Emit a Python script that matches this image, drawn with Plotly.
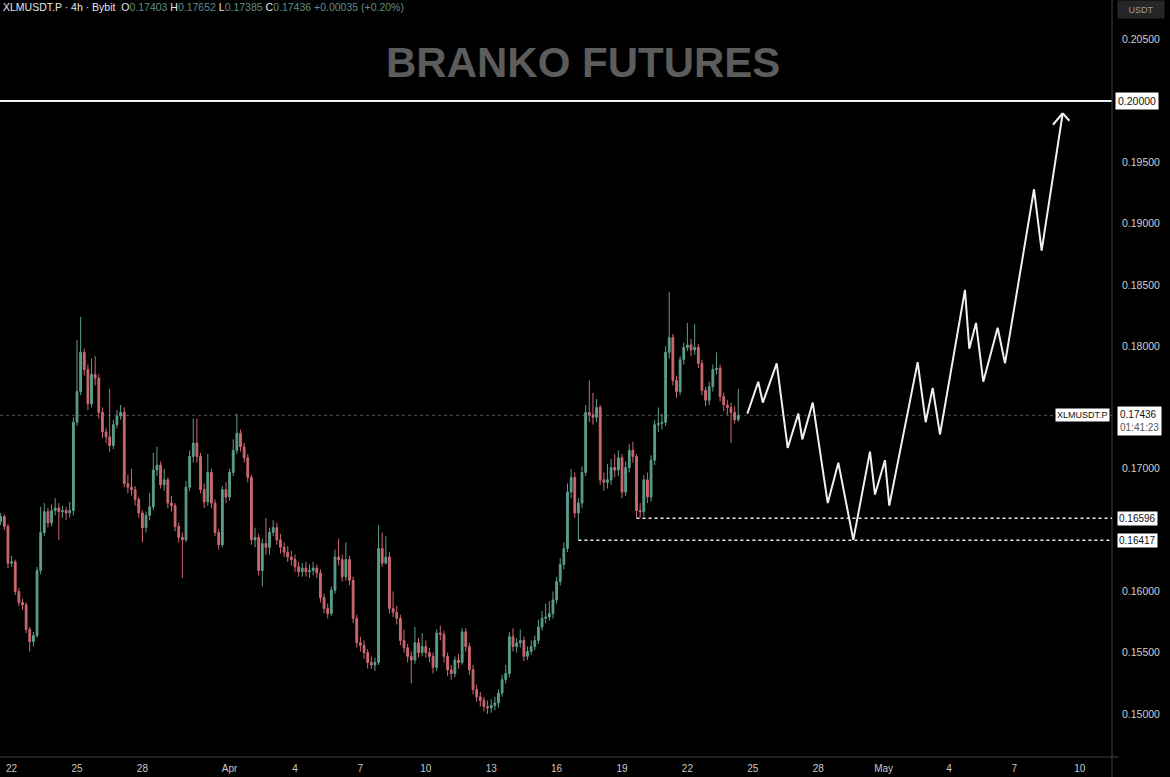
import pandas as pd
import plotly.graph_objects as go

symbol = "XLMUSDT.P"
first_open = 0.1657
closes = [
    0.1661, 0.1653, 0.1623, 0.1624, 0.1600, 0.1591, 0.1589, 0.1569, 0.1559, 0.1564,
    0.1617, 0.1648, 0.1665, 0.1656, 0.1666, 0.1668, 0.1665, 0.1666, 0.1664, 0.1666,
    0.1738, 0.1763, 0.1795, 0.1781, 0.1753, 0.1777, 0.1774, 0.1746, 0.1730, 0.1726,
    0.1719, 0.1736, 0.1743, 0.1746, 0.1688, 0.1685, 0.1683, 0.1675, 0.1664, 0.1652,
    0.1662, 0.1669, 0.1699, 0.1703, 0.1687, 0.1691, 0.1672, 0.1670, 0.1653, 0.1644,
    0.1642, 0.1685, 0.1710, 0.1721, 0.1710, 0.1683, 0.1673, 0.1697, 0.1672, 0.1648,
    0.1638, 0.1683, 0.1677, 0.1697, 0.1715, 0.1729, 0.1718, 0.1709, 0.1693, 0.1642,
    0.1644, 0.1617, 0.1639, 0.1636, 0.1648, 0.1652, 0.1642, 0.1636, 0.1632, 0.1628,
    0.1626, 0.1620, 0.1616, 0.1619, 0.1616, 0.1617, 0.1619, 0.1615, 0.1595, 0.1586,
    0.1582, 0.1601, 0.1628, 0.1626, 0.1612, 0.1626, 0.1609, 0.1578, 0.1558, 0.1556,
    0.1550, 0.1542, 0.1540, 0.1542, 0.1635, 0.1623, 0.1628, 0.1586, 0.1583, 0.1578,
    0.1560, 0.1554, 0.1547, 0.1544, 0.1558, 0.1550, 0.1555, 0.1550, 0.1547, 0.1538,
    0.1566, 0.1565, 0.1547, 0.1536, 0.1533, 0.1544, 0.1542, 0.1567, 0.1555, 0.1536,
    0.1520, 0.1514, 0.1511, 0.1506, 0.1505, 0.1507, 0.1509, 0.1517, 0.1528, 0.1533,
    0.1563, 0.1555, 0.1558, 0.1560, 0.1547, 0.1551, 0.1555, 0.1560, 0.1571, 0.1578,
    0.1579, 0.1582, 0.1593, 0.1608, 0.1622, 0.1635, 0.1681, 0.1693, 0.1664, 0.1672,
    0.1697, 0.1746, 0.1744, 0.1742, 0.1750, 0.1691, 0.1689, 0.1691, 0.1701, 0.1699,
    0.1709, 0.1681, 0.1701, 0.1715, 0.1710, 0.1666, 0.1665, 0.1691, 0.1677, 0.1707,
    0.1736, 0.1737, 0.1738, 0.1795, 0.1807, 0.1772, 0.1763, 0.1789, 0.1799, 0.1801,
    0.1797, 0.1799, 0.1786, 0.1764, 0.1756, 0.1767, 0.1781, 0.1782, 0.1759, 0.1752,
    0.1750, 0.1746, 0.1740, 0.17436,
]
highs = [
    0.1664, 0.1663, 0.1655, 0.1629, 0.1626, 0.1603, 0.1594, 0.1591, 0.1571, 0.1567,
    0.1620, 0.1669, 0.1672, 0.1668, 0.1671, 0.1676, 0.1672, 0.1670, 0.1669, 0.1673,
    0.1742, 0.1805, 0.1824, 0.1798, 0.1785, 0.1790, 0.1792, 0.1777, 0.1750, 0.1733,
    0.1765, 0.1740, 0.1748, 0.1752, 0.1750, 0.1695, 0.1700, 0.1686, 0.1677, 0.1666,
    0.1665, 0.1680, 0.1713, 0.1718, 0.1706, 0.1700, 0.1693, 0.1678, 0.1672, 0.1656,
    0.1648, 0.1690, 0.1715, 0.1741, 0.1741, 0.1713, 0.1688, 0.1712, 0.1700, 0.1675,
    0.1651, 0.1686, 0.1689, 0.1700, 0.1724, 0.1745, 0.1732, 0.1721, 0.1712, 0.1695,
    0.1652, 0.1647, 0.1643, 0.1660, 0.1652, 0.1658, 0.1656, 0.1647, 0.1640, 0.1637,
    0.1633, 0.1630, 0.1624, 0.1623, 0.1624, 0.1622, 0.1624, 0.1622, 0.1618, 0.1598,
    0.1590, 0.1604, 0.1634, 0.1643, 0.1630, 0.1640, 0.1629, 0.1612, 0.1581, 0.1563,
    0.1560, 0.1553, 0.1547, 0.1546, 0.1654, 0.1648, 0.1645, 0.1632, 0.1600, 0.1588,
    0.1581, 0.1569, 0.1557, 0.1551, 0.1571, 0.1562, 0.1566, 0.1560, 0.1554, 0.1550,
    0.1569, 0.1572, 0.1568, 0.1550, 0.1540, 0.1547, 0.1549, 0.1570, 0.1570, 0.1558,
    0.1540, 0.1524, 0.1518, 0.1514, 0.1511, 0.1512, 0.1514, 0.1520, 0.1532, 0.1540,
    0.1567, 0.1570, 0.1562, 0.1569, 0.1563, 0.1555, 0.1560, 0.1564, 0.1577, 0.1584,
    0.1590, 0.1592, 0.1600, 0.1612, 0.1627, 0.1640, 0.1688, 0.1700, 0.1697, 0.1676,
    0.1702, 0.1752, 0.1772, 0.1762, 0.1757, 0.1752, 0.1697, 0.1704, 0.1708, 0.1712,
    0.1715, 0.1712, 0.1706, 0.1720, 0.1722, 0.1712, 0.1672, 0.1695, 0.1697, 0.1711,
    0.1740, 0.1750, 0.1745, 0.1800, 0.1844, 0.1810, 0.1776, 0.1792, 0.1803, 0.1819,
    0.1806, 0.1818, 0.1802, 0.1789, 0.1767, 0.1771, 0.1785, 0.1795, 0.1785, 0.1762,
    0.1756, 0.1754, 0.1751, 0.17652,
]
lows = [
    0.1654, 0.1650, 0.1619, 0.1620, 0.1597, 0.1588, 0.1585, 0.1566, 0.1551, 0.1555,
    0.1562, 0.1614, 0.1645, 0.1652, 0.1653, 0.1662, 0.1642, 0.1660, 0.1658, 0.1660,
    0.1662, 0.1735, 0.1760, 0.1776, 0.1748, 0.1750, 0.1768, 0.1741, 0.1725, 0.1721,
    0.1714, 0.1716, 0.1733, 0.1740, 0.1685, 0.1680, 0.1678, 0.1670, 0.1660, 0.1640,
    0.1648, 0.1658, 0.1666, 0.1694, 0.1684, 0.1682, 0.1668, 0.1665, 0.1649, 0.1640,
    0.1611, 0.1640, 0.1682, 0.1705, 0.1705, 0.1680, 0.1668, 0.1670, 0.1668, 0.1645,
    0.1634, 0.1636, 0.1672, 0.1674, 0.1694, 0.1712, 0.1714, 0.1705, 0.1689, 0.1638,
    0.1636, 0.1613, 0.1604, 0.1630, 0.1630, 0.1645, 0.1638, 0.1631, 0.1628, 0.1624,
    0.1621, 0.1616, 0.1612, 0.1612, 0.1612, 0.1611, 0.1613, 0.1611, 0.1591, 0.1582,
    0.1578, 0.1580, 0.1598, 0.1621, 0.1608, 0.1609, 0.1605, 0.1574, 0.1554, 0.1551,
    0.1545, 0.1537, 0.1537, 0.1535, 0.1540, 0.1620, 0.1622, 0.1582, 0.1579, 0.1573,
    0.1556, 0.1550, 0.1542, 0.1525, 0.1541, 0.1546, 0.1547, 0.1546, 0.1542, 0.1533,
    0.1535, 0.1560, 0.1542, 0.1531, 0.1528, 0.1530, 0.1537, 0.1540, 0.1551, 0.1532,
    0.1516, 0.1510, 0.1506, 0.1502, 0.1500, 0.1501, 0.1503, 0.1505, 0.1514, 0.1525,
    0.1530, 0.1551, 0.1550, 0.1554, 0.1543, 0.1544, 0.1548, 0.1552, 0.1557, 0.1568,
    0.1574, 0.1576, 0.1578, 0.1590, 0.1605, 0.1618, 0.1632, 0.1676, 0.1660, 0.16417,
    0.1668, 0.1694, 0.1738, 0.1736, 0.1738, 0.1687, 0.1682, 0.1684, 0.1687, 0.1693,
    0.1694, 0.1676, 0.1678, 0.1697, 0.1705, 0.16596, 0.1660, 0.1661, 0.1672, 0.1673,
    0.1703, 0.1730, 0.1732, 0.1735, 0.1790, 0.1768, 0.1758, 0.1760, 0.1785, 0.1796,
    0.1792, 0.1793, 0.1782, 0.1760, 0.1751, 0.1752, 0.1763, 0.1777, 0.1755, 0.1747,
    0.1744, 0.1721, 0.1737, 0.17385,
]
opens = [first_open] + closes[:-1]
times = pd.date_range("2024-03-21 12:00", periods=len(closes), freq="4h")

# projected path (hand drawn)
proj_times = [
    "2024-04-24 18:00", "2024-04-25 06:00", "2024-04-25 11:00", "2024-04-26 02:20",
    "2024-04-26 14:25", "2024-04-27 02:05", "2024-04-27 06:30", "2024-04-27 18:00",
    "2024-04-28 10:30", "2024-04-28 22:10", "2024-04-29 14:40", "2024-04-30 09:00",
    "2024-04-30 14:30", "2024-05-01 01:30", "2024-05-01 06:15", "2024-05-02 13:30",
    "2024-05-02 22:20", "2024-05-03 06:00", "2024-05-03 14:05", "2024-05-04 17:35",
    "2024-05-04 22:20", "2024-05-05 05:45", "2024-05-05 13:45", "2024-05-06 05:35",
    "2024-05-06 13:40", "2024-05-07 21:35", "2024-05-08 06:00", "2024-05-09 05:10",
]
proj_prices = [
    0.1745, 0.1771, 0.1754, 0.1786, 0.1717, 0.1745, 0.1724, 0.1754,
    0.1672, 0.1705, 0.1642, 0.1714, 0.1679, 0.1707, 0.1670, 0.1787,
    0.1738, 0.1766, 0.1728, 0.1846, 0.1798, 0.1819, 0.1771, 0.1815,
    0.1786, 0.1928, 0.1878, 0.1990,
]

target_level = 0.20000
support_levels = [0.16596, 0.16417]
support_starts = ["2024-04-19 16:00", "2024-04-17 00:00"]
last_price = 0.17436
countdown = "01:41:23"

x_range = ["2024-03-21 11:14", "2024-05-11 11:27"]
y_range = [0.14649, 0.20824]
y_ticks = [0.150, 0.155, 0.160, 0.170, 0.180, 0.185, 0.190, 0.195, 0.205]
x_tickvals = ["2024-03-22", "2024-03-25", "2024-03-28", "2024-04-01", "2024-04-04",
              "2024-04-07", "2024-04-10", "2024-04-13", "2024-04-16", "2024-04-19",
              "2024-04-22", "2024-04-25", "2024-04-28", "2024-05-01", "2024-05-04",
              "2024-05-07", "2024-05-10"]
x_ticktext = ["22", "25", "28", "Apr", "4", "7", "10", "13", "16", "19", "22",
              "25", "28", "May", "4", "7", "10"]

UP = "#5c9e8b"
DOWN = "#cc6872"
FONT = "Liberation Sans"
WHITE = "#f0f0f0"

fig = go.Figure()
fig.add_trace(go.Candlestick(
    x=times, open=opens, high=highs, low=lows, close=closes,
    increasing=dict(line=dict(color=UP, width=1), fillcolor=UP),
    decreasing=dict(line=dict(color=DOWN, width=1), fillcolor=DOWN),
    whiskerwidth=0, showlegend=False, hoverinfo="skip",
))
fig.add_trace(go.Scatter(
    x=proj_times, y=proj_prices, mode="lines",
    line=dict(color=WHITE, width=2), showlegend=False, hoverinfo="skip",
))

shapes = [
    dict(type="line", xref="paper", x0=0, x1=1, yref="y", y0=last_price, y1=last_price,
         line=dict(color="rgba(150,150,150,0.55)", width=1, dash="dot"), layer="below"),
    dict(type="line", xref="paper", x0=0, x1=1, yref="y", y0=target_level, y1=target_level,
         line=dict(color=WHITE, width=2)),
    dict(type="line", xref="paper", x0=1, x1=1, yref="paper", y0=-0.03, y1=1,
         line=dict(color="#404040", width=1)),
    dict(type="line", xref="paper", x0=0, x1=1.006, yref="paper", y0=0, y1=0,
         line=dict(color="#404040", width=1)),
]
for lvl, start in zip(support_levels, support_starts):
    shapes.append(dict(type="line", xref="x", x0=start, x1=x_range[1], yref="y", y0=lvl, y1=lvl,
                       line=dict(color="#e8e8e8", width=1.5, dash="dot")))

annotations = [
    dict(text="<b>BRANKO FUTURES</b>", xref="paper", yref="paper", x=0.524, y=0.918,
         xanchor="center", yanchor="middle",
         showarrow=False, font=dict(family=FONT, size=42, color="#5c5c5c")),
    dict(text=(f"<span style='color:#e6e6e6'>{symbol} · 4h · Bybit</span>  "
               "<span style='color:#e6e6e6'>O</span><span style='color:#5f8f86'>0.17403</span> "
               "<span style='color:#e6e6e6'>H</span><span style='color:#5f8f86'>0.17652</span> "
               "<span style='color:#e6e6e6'>L</span><span style='color:#5f8f86'>0.17385</span> "
               "<span style='color:#e6e6e6'>C</span><span style='color:#5f8f86'>0.17436</span> "
               "<span style='color:#5f8f86'>+0.00035 (+0.20%)</span>"),
         xref="paper", yref="paper", x=0, y=1, xanchor="left", yanchor="top",
         xshift=1, yshift=1, showarrow=False, font=dict(family=FONT, size=10.5)),
    dict(text="USDT", xref="paper", yref="paper", x=1, y=1, xanchor="left", yanchor="top",
         xshift=5, width=42, height=13, showarrow=False, bgcolor="#262626", borderpad=2,
         font=dict(family=FONT, size=9, color="#9a9a9a")),
    dict(text=f"{target_level:.5f}", xref="paper", yref="y", x=1, y=target_level,
         xanchor="left", xshift=3, showarrow=False, bgcolor="#ffffff", borderpad=2,
         font=dict(family=FONT, size=10.5, color="#111111")),
    dict(text=symbol, xref="paper", yref="y", x=1, y=last_price, xanchor="right",
         xshift=-2, showarrow=False, bgcolor="#ffffff", borderpad=1,
         font=dict(family=FONT, size=9, color="#111111")),
    dict(text=f"{last_price:.5f}<br><span style='color:#555'>{countdown}</span>",
         xref="paper", yref="y", x=1, y=last_price, xanchor="left", yanchor="top",
         xshift=5, yshift=9, showarrow=False, bgcolor="#ffffff", borderpad=2, align="left",
         font=dict(family=FONT, size=10, color="#111111")),
]
# open chevron arrow head at the end of the projected path
for ax, ay in [(-11, 13), (8, 9)]:
    annotations.append(dict(x=proj_times[-1], y=proj_prices[-1], xref="x", yref="y", text="",
                            showarrow=True, ax=ax, ay=ay, arrowhead=0, arrowwidth=2,
                            arrowcolor=WHITE, standoff=0, startstandoff=0))
for lvl in support_levels:
    annotations.append(dict(text=f"{lvl:.5f}", xref="paper", yref="y", x=1, y=lvl,
                            xanchor="left", xshift=5, showarrow=False, bgcolor="#ffffff",
                            borderpad=1, font=dict(family=FONT, size=10, color="#111111")))

fig.update_layout(
    width=1170, height=777,
    margin=dict(l=0, r=58, t=0, b=20),
    paper_bgcolor="#000000", plot_bgcolor="#000000",
    shapes=shapes, annotations=annotations,
    showlegend=False,
    xaxis=dict(type="date", range=x_range, rangeslider=dict(visible=False),
               showgrid=False, zeroline=False, showline=False,
               tickvals=x_tickvals, ticktext=x_ticktext, ticks="",
               ticklabelstandoff=4,
               tickfont=dict(family=FONT, size=10, color="#c8c8c8")),
    yaxis=dict(range=y_range, side="right", showgrid=False, zeroline=False, showline=False,
               tickvals=y_ticks, ticktext=[f"{v:.5f}" for v in y_ticks], ticks="",
               ticklabelstandoff=9,
               tickfont=dict(family=FONT, size=10.5, color="#cfcfcf")),
)

fig.write_html("out.html", config={"displayModeBar": False},
               post_script="document.body.style.margin='0';document.body.style.overflow='hidden';")
